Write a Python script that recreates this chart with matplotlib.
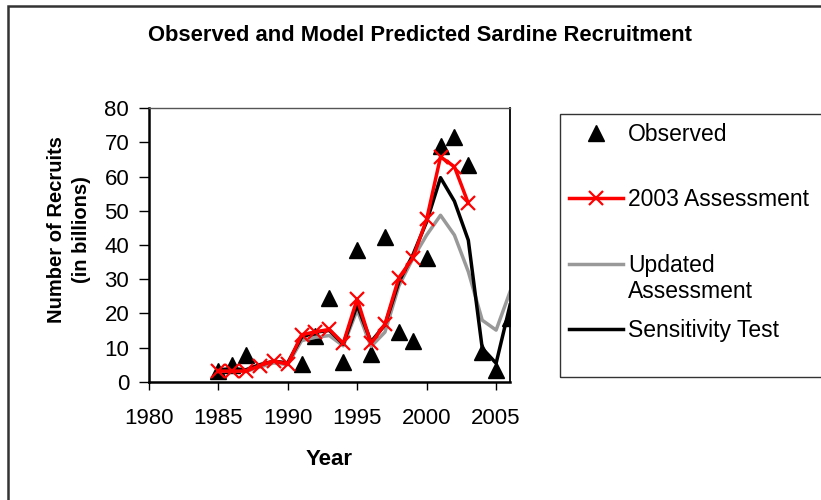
import numpy as np
import matplotlib.pyplot as plt
from matplotlib.patches import Rectangle

plt.rcParams['font.family'] = ['Liberation Sans', 'DejaVu Sans']

# observed recruitment (billions)
obs_years = [1985, 1986, 1987, 1991, 1992, 1993, 1994, 1995, 1996, 1997,
             1998, 1999, 2000, 2001, 2002, 2003, 2004, 2005, 2006]
obs_vals = [3.1, 4.8, 7.8, 5.3, 13.5, 24.4, 5.9, 38.5, 8.1, 42.4,
            14.6, 11.9, 36.1, 69.0, 71.6, 63.4, 8.6, 3.4, 18.5]

# 2003 assessment
a03_years = list(range(1985, 2004))
a03_vals = [3.1, 3.1, 3.1, 4.7, 6.1, 5.1, 13.7, 14.6, 15.3, 11.2,
            24.2, 11.2, 16.8, 30.4, 36.1, 47.5, 65.8, 62.9, 52.2]

# updated assessment
upd_years = list(range(1985, 2007))
upd_vals = [3.0, 3.3, 3.0, 4.3, 5.5, 5.0, 12.0, 13.0, 13.5, 10.5,
            21.0, 10.3, 14.5, 28.0, 36.0, 42.9, 48.7, 42.9, 32.2, 18.0,
            15.1, 26.3]

# sensitivity test
sen_years = list(range(1985, 2007))
sen_vals = [3.5, 3.8, 3.5, 5.0, 6.0, 5.5, 13.0, 14.5, 15.0, 11.0,
            22.4, 11.7, 16.6, 29.2, 37.0, 46.8, 59.7, 52.8, 41.4, 9.8,
            5.4, 22.4]

fig = plt.figure(figsize=(8.21, 5.00), dpi=100)
ax = fig.add_axes([0.1811, 0.2366, 0.4401, 0.5468])

ax.plot(obs_years, obs_vals, linestyle='none', marker='^', color='black',
        markersize=11, zorder=1, label='Observed')
ax.plot(a03_years, a03_vals, color='red', lw=2.5, marker='x', markersize=10,
        mew=1.6, zorder=4, label='2003 Assessment')
ax.plot(upd_years, upd_vals, color='#999999', lw=2.5, zorder=2, label='Updated')
ax.plot(sen_years, sen_vals, color='black', lw=2.5, zorder=3, label='Sensitivity Test')

ax.set_xlim(1980, 2006)
ax.set_ylim(0, 80)
ax.set_xticks(np.arange(1980, 2006, 5))
ax.set_yticks(np.arange(0, 81, 10))
ax.tick_params(axis='x', direction='out', length=6, width=1, labelsize=16, pad=13)
ax.tick_params(axis='y', direction='out', length=7, width=1, labelsize=16, pad=7)
for s in ['left', 'bottom']:
    ax.spines[s].set_linewidth(1.8)
ax.spines['right'].set_linewidth(1.3)
ax.spines['top'].set_linewidth(1.0)
ax.spines['top'].set_color('#555555')

ax.set_xlabel('Year', fontsize=16, fontweight='bold', labelpad=14)
fig.text(69 / 821, 0.54, 'Number of Recruits\n(in billions)', rotation=90,
         ha='center', va='center', fontsize=14.5, fontweight='bold',
         multialignment='center', linespacing=1.35)

fig.text(420 / 821, 1 - 35 / 500, 'Observed and Model Predicted Sardine Recruitment',
         ha='center', va='center', fontsize=15.8, fontweight='bold')

leg = fig.legend(loc='upper left', bbox_to_anchor=(569 / 821, 1 - 123 / 500),
                 frameon=False, fontsize=16.5, handlelength=2.36, handletextpad=0.22,
                 labelspacing=1.85, borderpad=0, borderaxespad=0, numpoints=1)
fig.text(628 / 821, 1 - 292 / 500, 'Assessment', ha='left', va='center', fontsize=16.5)

# legend box and outer frame
fig.patches.append(Rectangle((560 / 821, 1 - 377 / 500), 0.4, (377 - 114) / 500,
                             transform=fig.transFigure, fill=False,
                             edgecolor='#333333', lw=1.0))
fig.patches.append(Rectangle((8 / 821, -0.1), 1.2, 1.1 - 6 / 500,
                             transform=fig.transFigure, fill=False,
                             edgecolor='#333333', lw=1.8))

fig.savefig('out.png', dpi=100)
